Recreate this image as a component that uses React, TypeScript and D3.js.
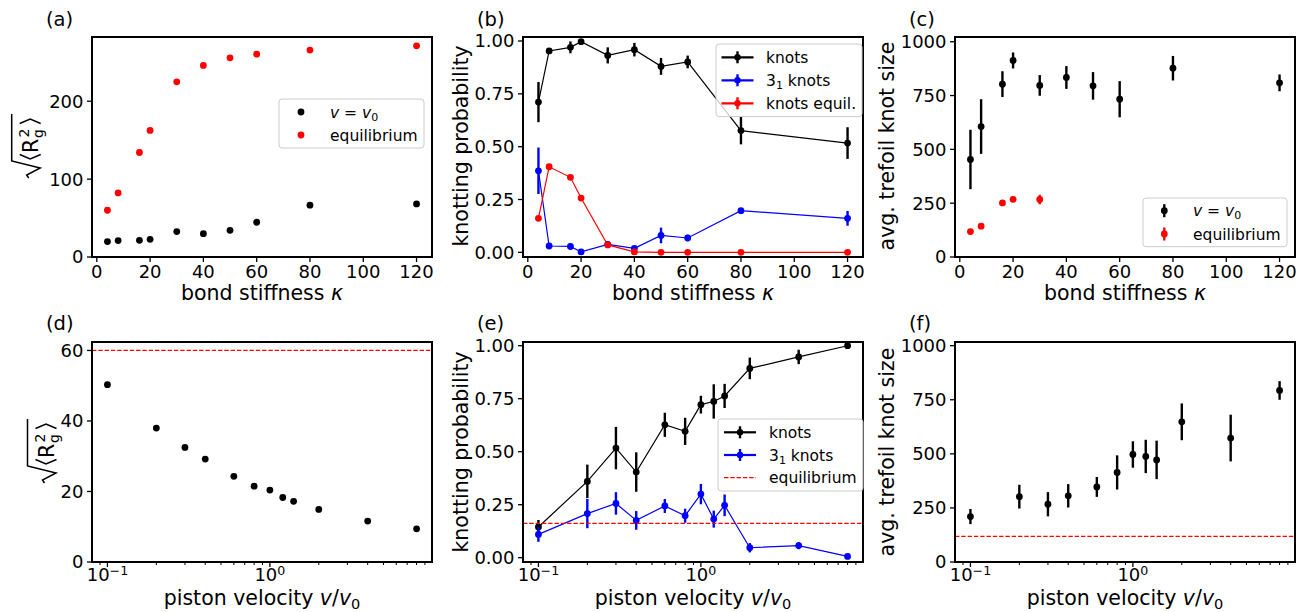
import React from "react";
import * as d3 from "d3";

const FONT = "'DejaVu Sans', sans-serif";

// bond stiffness (panels a-c)
const kappa = [4, 8, 16, 20, 30, 40, 50, 60, 80, 120];
const kappaEq = [4, 8, 16, 20, 30];
const kappaTicks = [0, 20, 40, 60, 80, 100, 120];

// (a) sqrt(<Rg^2>)
const rgV0 = [19.8, 21.1, 21.4, 22.7, 32.6, 30.0, 34.3, 44.6, 66.5, 68.1];
const rgEq = [60.0, 82.3, 134.2, 162.5, 225, 246, 255.8, 260.5, 265.7, 271.2];
const rgTicksA = [0, 100, 200];

// (b) knotting probability vs kappa
const knotsK = [0.711, 0.953, 0.97, 0.997, 0.932, 0.959, 0.88, 0.901, 0.576, 0.517];
const knotsKErr = [0.095, 0.012, 0.028, 0.005, 0.038, 0.032, 0.04, 0.03, 0.065, 0.075];
const trefK = [0.386, 0.03, 0.028, 0.002, 0.038, 0.019, 0.08, 0.068, 0.197, 0.161];
const trefKErr = [0.11, 0.008, 0.015, 0.004, 0.015, 0.008, 0.037, 0.015, 0.008, 0.035];
const knotsEqK = [0.161, 0.405, 0.355, 0.257, 0.035, 0.002, 0, 0, 0, 0];
const probTicks = [0, 0.25, 0.5, 0.75, 1];

// (c) avg trefoil knot size vs kappa
const sizeK = [453, 606, 803, 913, 797, 834, 795, 733, 877, 809];
const sizeKErr = [138, 127, 60, 37, 48, 53, 64, 84, 57, 39];
const sizeEqK = [118, 143, 251, 268, 267];
const sizeEqKErr = [6, 6, 6, 6, 22];
const sizeTicks = [0, 250, 500, 750, 1000];

// piston velocity (panels d-f)
const velocity = [0.1, 0.2, 0.3, 0.4, 0.6, 0.8, 1.0, 1.2, 1.4, 2.0, 4.0, 8.0];

// (d)
const rgV = [50.3, 38.0, 32.5, 29.2, 24.3, 21.5, 20.4, 18.3, 17.2, 14.9, 11.6, 9.4];
const rgEqLine = 60;
const rgTicksD = [0, 20, 40, 60];

// (e)
const knotsV = [0.145, 0.36, 0.517, 0.404, 0.627, 0.596, 0.722, 0.737, 0.763, 0.893, 0.947, 1.0];
const knotsVErr = [0.033, 0.079, 0.1, 0.093, 0.057, 0.064, 0.042, 0.081, 0.057, 0.051, 0.034, 0];
const trefV = [0.11, 0.208, 0.256, 0.176, 0.244, 0.198, 0.3, 0.182, 0.247, 0.047, 0.057, 0.006];
const trefVErr = [0.035, 0.069, 0.053, 0.044, 0.033, 0.033, 0.048, 0.04, 0.051, 0.022, 0.017, 0.004];
const knotsEqLine = 0.162;

// (f)
const sizeV = [210, 302, 267, 306, 347, 414, 497, 488, 472, 648, 573, 793];
const sizeVErr = [35, 55, 56, 54, 46, 79, 61, 77, 89, 85, 108, 43];
const sizeEqLine = 118;

// layout
const COLS = [[92, 432], [523, 863], [955, 1295]];
const ROWS = [[37, 257], [342, 562]];
const TICK = 5;

const linX = (c: number) =>
  d3.scaleLinear().domain([-1.8, 125.8]).range(COLS[c]);
const logX = (c: number) =>
  d3.scaleLog().domain([Math.pow(10, -1.095), Math.pow(10, 0.998)]).range(COLS[c]);
const linY = (r: number, dom: number[]) =>
  d3.scaleLinear().domain(dom).range([ROWS[r][1], ROWS[r][0]]);

const Frame = ({ c, r }: any) => (
  <rect x={COLS[c][0]} y={ROWS[r][0]} width={COLS[c][1] - COLS[c][0]}
    height={ROWS[r][1] - ROWS[r][0]} fill="none" stroke="#000" strokeWidth={2} />
);

const XTicksLin = ({ sx, r }: any) => {
  const y = ROWS[r][1];
  return (
    <g>
      {kappaTicks.map((t) => (
        <g key={t}>
          <line x1={sx(t)} x2={sx(t)} y1={y} y2={y + TICK} stroke="#000" strokeWidth={1.3} />
          <text x={sx(t)} y={y + 21} fontSize={18} textAnchor="middle">{t}</text>
        </g>
      ))}
    </g>
  );
};

const XTicksLog = ({ sx, r }: any) => {
  const y = ROWS[r][1];
  const [lo, hi] = sx.domain();
  const minors: number[] = [];
  for (let e = -2; e <= 1; e++)
    for (let m = 2; m <= 9; m++) {
      const v = m * Math.pow(10, e);
      if (v >= lo && v <= hi) minors.push(v);
    }
  const majors = [
    { v: 0.1, exp: "\u22121" },
    { v: 1, exp: "0" },
  ];
  return (
    <g>
      {minors.map((v, i) => (
        <line key={i} x1={sx(v)} x2={sx(v)} y1={y} y2={y + 3} stroke="#000" strokeWidth={1} />
      ))}
      {majors.map((m) => (
        <g key={m.v}>
          <line x1={sx(m.v)} x2={sx(m.v)} y1={y} y2={y + TICK} stroke="#000" strokeWidth={1.3} />
          <text x={sx(m.v)} y={y + 18.5} fontSize={18} textAnchor="middle">
            <tspan>10</tspan>
            <tspan fontSize={12.6} dy={-6}>{m.exp}</tspan>
          </text>
        </g>
      ))}
    </g>
  );
};

const YTicks = ({ sy, c, ticks, fmt }: any) => {
  const x = COLS[c][0];
  return (
    <g>
      {ticks.map((t: number) => (
        <g key={t}>
          <line x1={x - TICK} x2={x} y1={sy(t)} y2={sy(t)} stroke="#000" strokeWidth={1.3} />
          <text x={x - 8.5} y={sy(t)} dy="0.36em" fontSize={18} textAnchor="end">
            {fmt ? fmt(t) : t}
          </text>
        </g>
      ))}
    </g>
  );
};

const Series = ({ xs, ys, errs, color, sx, sy, line }: any) => {
  const pts: [number, number][] = xs.map((x: number, i: number) => [sx(x), sy(ys[i])]);
  return (
    <g>
      {errs &&
        xs.map((x: number, i: number) => (
          <line key={"e" + i} x1={sx(x)} x2={sx(x)} y1={sy(ys[i] - errs[i])}
            y2={sy(ys[i] + errs[i])} stroke={color} strokeWidth={2.4} />
        ))}
      {line && (
        <path d={d3.line()(pts) || ""} fill="none" stroke={color} strokeWidth={1.2} />
      )}
      {pts.map((p, i) => (
        <circle key={i} cx={p[0]} cy={p[1]} r={3.4} fill={color} />
      ))}
    </g>
  );
};

const HLine = ({ c, y, color }: any) => (
  <line x1={COLS[c][0]} x2={COLS[c][1]} y1={y} y2={y} stroke={color}
    strokeWidth={1.2} strokeDasharray="4.4,1.9" />
);

const V0 = () => (
  <>
    <tspan fontStyle="italic">v</tspan>
    <tspan> = </tspan>
    <tspan fontStyle="italic">v</tspan>
    <tspan fontSize={11} dy={3}>0</tspan>
  </>
);

const Tref = () => (
  <>
    <tspan>3</tspan>
    <tspan fontSize={11} dy={3}>1</tspan>
    <tspan dy={-3}> knots</tspan>
  </>
);

// legend: items {kind: 'dot'|'errdot'|'errline'|'dash', color, label}
const Legend = ({ x, y, w, rows, items, hx, tx }: any) => (
  <g>
    <rect x={x} y={y} width={w} height={rows[rows.length - 1] - y + (rows[0] - y)}
      rx={3} fill="#fff" fillOpacity={0.8} stroke="#cccccc" strokeWidth={1} />
    {items.map((it: any, i: number) => {
      const ry = rows[i];
      return (
        <g key={i}>
          {it.kind === "dot" && <circle cx={hx} cy={ry} r={3.4} fill={it.color} />}
          {it.kind === "errdot" && (
            <g>
              <line x1={hx} x2={hx} y1={ry - 6.5} y2={ry + 6.5} stroke={it.color} strokeWidth={2.4} />
              <circle cx={hx} cy={ry} r={3.4} fill={it.color} />
            </g>
          )}
          {it.kind === "errline" && (
            <g>
              <line x1={hx - 16} x2={hx + 16} y1={ry} y2={ry} stroke={it.color} strokeWidth={2.2} />
              <line x1={hx} x2={hx} y1={ry - 6} y2={ry + 6} stroke={it.color} strokeWidth={2.4} />
              <circle cx={hx} cy={ry} r={3.2} fill={it.color} />
            </g>
          )}
          {it.kind === "dash" && (
            <line x1={hx - 16} x2={hx + 16} y1={ry} y2={ry} stroke={it.color}
              strokeWidth={1.2} strokeDasharray="4.4,1.9" />
          )}
          <text x={tx} y={ry} dy="0.36em" fontSize={15.5}>{it.label}</text>
        </g>
      );
    })}
  </g>
);

// sqrt(<R_g^2>) drawn in a rotated local frame (x along the text, y across it)
const RgLabel = ({ bx, cy }: any) => (
  <g transform={`translate(${bx},${cy}) rotate(-90)`}>
    <path d="M-33,-9 L-30,-11 L-23,2.5 L-16,-26 L31,-26" fill="none" stroke="#000" strokeWidth={1.5} />
    <path d="M-9.5,-18 L-14,-7.5 L-9.5,3" fill="none" stroke="#000" strokeWidth={1.4} />
    <text x={-8} y={0} fontSize={20.5}>R</text>
    <text x={7.5} y={-8.5} fontSize={14}>2</text>
    <text x={7} y={5.5} fontSize={14}>g</text>
    <path d="M21.5,-18 L26,-7.5 L21.5,3" fill="none" stroke="#000" strokeWidth={1.4} />
  </g>
);

const YLabel = ({ bx, cy, text }: any) => (
  <text transform={`translate(${bx},${cy}) rotate(-90)`} textAnchor="middle" fontSize={20.5}>
    {text}
  </text>
);

const XLabelKappa = ({ c }: any) => (
  <text x={(COLS[c][0] + COLS[c][1]) / 2} y={300} textAnchor="middle" fontSize={20.5}>
    <tspan>bond stiffness </tspan>
    <tspan fontStyle="italic">{"\u03ba"}</tspan>
  </text>
);

const XLabelV = ({ c }: any) => (
  <text x={(COLS[c][0] + COLS[c][1]) / 2} y={605} textAnchor="middle" fontSize={20.5}>
    <tspan>piston velocity </tspan>
    <tspan fontStyle="italic">v</tspan>
    <tspan>/</tspan>
    <tspan fontStyle="italic">v</tspan>
    <tspan fontSize={14.5} dy={3.5}>0</tspan>
  </text>
);

const PanelTag = ({ x, y, t }: any) => (
  <text x={x} y={y} fontSize={19.5}>{t}</text>
);

export default function App() {
  // scales
  const xa = linX(0), xb = linX(1), xc = linX(2);
  const xd = logX(0), xe = logX(1), xf = logX(2);
  const ya = linY(0, [0, 282.5]);
  const yb = linY(0, [-0.022, 1.019]);
  const yc = linY(0, [0, 1022]);
  const yd = linY(1, [0, 62.4]);
  const ye = linY(1, [-0.0203, 1.0175]);
  const yf = linY(1, [0, 1017]);
  const f2 = d3.format(".2f");

  return (
    <svg width={1309} height={612} fontFamily={FONT}
      style={{ position: "absolute", left: 0, top: 0, background: "#fff" }}>
      <rect width={1309} height={612} fill="#fff" />

      {/* (a) */}
      <PanelTag x={46} y={25.5} t="(a)" />
      <Series xs={kappa} ys={rgV0} color="#000" sx={xa} sy={ya} />
      <Series xs={kappa} ys={rgEq} color="#ff0000" sx={xa} sy={ya} />
      <Frame c={0} r={0} />
      <XTicksLin sx={xa} r={0} />
      <YTicks sy={ya} c={0} ticks={rgTicksA} />
      <XLabelKappa c={0} />
      <RgLabel bx={37.7} cy={145} />
      <Legend x={279} y={99} w={145} rows={[112, 135]} hx={301} tx={330}
        items={[
          { kind: "dot", color: "#000", label: <V0 /> },
          { kind: "dot", color: "#ff0000", label: "equilibrium" },
        ]} />

      {/* (b) */}
      <PanelTag x={477} y={25.5} t="(b)" />
      <Series xs={kappa} ys={knotsK} errs={knotsKErr} color="#000" sx={xb} sy={yb} line />
      <Series xs={kappa} ys={trefK} errs={trefKErr} color="#0000ff" sx={xb} sy={yb} line />
      <Series xs={kappa} ys={knotsEqK} color="#ff0000" sx={xb} sy={yb} line />
      <Frame c={1} r={0} />
      <XTicksLin sx={xb} r={0} />
      <YTicks sy={yb} c={1} ticks={probTicks} fmt={f2} />
      <XLabelKappa c={1} />
      <YLabel bx={468} cy={146} text="knotting probability" />
      <Legend x={716} y={44} w={146} rows={[57.3, 80.3, 103.3]} hx={737.5} tx={766}
        items={[
          { kind: "errline", color: "#000", label: "knots" },
          { kind: "errline", color: "#0000ff", label: <Tref /> },
          { kind: "errline", color: "#ff0000", label: "knots equil." },
        ]} />

      {/* (c) */}
      <PanelTag x={909} y={25.5} t="(c)" />
      <Series xs={kappa} ys={sizeK} errs={sizeKErr} color="#000" sx={xc} sy={yc} />
      <Series xs={kappaEq} ys={sizeEqK} errs={sizeEqKErr} color="#ff0000" sx={xc} sy={yc} />
      <Frame c={2} r={0} />
      <XTicksLin sx={xc} r={0} />
      <YTicks sy={yc} c={2} ticks={sizeTicks} />
      <XLabelKappa c={2} />
      <YLabel bx={894} cy={146} text="avg. trefoil knot size" />
      <Legend x={1143} y={198} w={144} rows={[210.7, 234]} hx={1164.3} tx={1193}
        items={[
          { kind: "errdot", color: "#000", label: <V0 /> },
          { kind: "errdot", color: "#ff0000", label: "equilibrium" },
        ]} />

      {/* (d) */}
      <PanelTag x={46} y={329.5} t="(d)" />
      <HLine c={0} y={yd(rgEqLine)} color="#ff0000" />
      <Series xs={velocity} ys={rgV} color="#000" sx={xd} sy={yd} />
      <Frame c={0} r={1} />
      <XTicksLog sx={xd} r={1} />
      <YTicks sy={yd} c={0} ticks={rgTicksD} />
      <XLabelV c={0} />
      <RgLabel bx={53.5} cy={450} />

      {/* (e) */}
      <PanelTag x={477} y={329.5} t="(e)" />
      <Series xs={velocity} ys={knotsV} errs={knotsVErr} color="#000" sx={xe} sy={ye} line />
      <Series xs={velocity} ys={trefV} errs={trefVErr} color="#0000ff" sx={xe} sy={ye} line />
      <HLine c={1} y={ye(knotsEqLine)} color="#ff0000" />
      <Frame c={1} r={1} />
      <XTicksLog sx={xe} r={1} />
      <YTicks sy={ye} c={1} ticks={probTicks} fmt={f2} />
      <XLabelV c={1} />
      <YLabel bx={468} cy={452} text="knotting probability" />
      <Legend x={718} y={419} w={145} rows={[432.3, 455, 477.7]} hx={740} tx={769}
        items={[
          { kind: "errline", color: "#000", label: "knots" },
          { kind: "errline", color: "#0000ff", label: <Tref /> },
          { kind: "dash", color: "#ff0000", label: "equilibrium" },
        ]} />

      {/* (f) */}
      <PanelTag x={909} y={329.5} t="(f)" />
      <Series xs={velocity} ys={sizeV} errs={sizeVErr} color="#000" sx={xf} sy={yf} />
      <HLine c={2} y={yf(sizeEqLine)} color="#ff0000" />
      <Frame c={2} r={1} />
      <XTicksLog sx={xf} r={1} />
      <YTicks sy={yf} c={2} ticks={sizeTicks} />
      <XLabelV c={2} />
      <YLabel bx={894} cy={452} text="avg. trefoil knot size" />
    </svg>
  );
}
